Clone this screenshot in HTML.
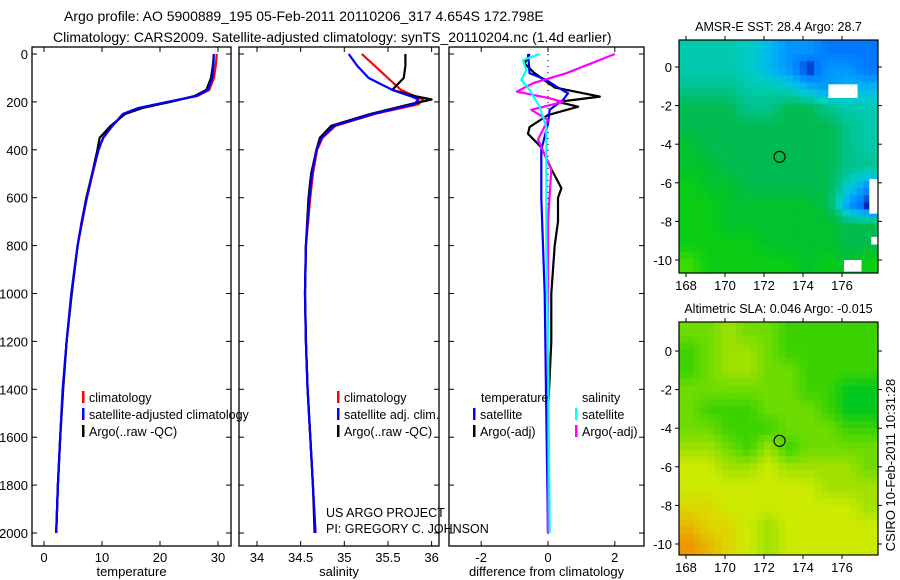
<!DOCTYPE html>
<html><head><meta charset="utf-8">
<style>
body{margin:0;background:#fff;}
svg{display:block;font-family:"Liberation Sans",sans-serif;}
</style></head>
<body>
<svg id="chart" width="900" height="580" viewBox="0 0 900 580" xmlns="http://www.w3.org/2000/svg">
<rect width="900" height="580" fill="#fff"/>
<text x="64" y="21" font-size="14">Argo profile: AO 5900889_195 05-Feb-2011 20110206_317 4.654S 172.798E</text>
<text x="53" y="42" font-size="14">Climatology: CARS2009. Satellite-adjusted climatology: synTS_20110204.nc (1.4d earlier)</text>
<g id="g"></g>
</svg>
<script>
// ---- profile data ----
const tDepth=[0,50,100,150,175,200,225,250,300,350,400,500,600,700,800,1000,1200,1400,1600,1800,2000];
const tempClim=[29.8,29.6,29.3,28.5,26.5,21.5,16.5,13.8,11.8,10.2,9.4,8.4,7.4,6.6,5.8,4.7,3.9,3.3,2.8,2.4,2.1];
const tempSat=[29.3,29.2,29.0,28.3,26.3,21.2,16.3,13.6,11.8,10.2,9.4,8.3,7.4,6.5,5.8,4.7,3.9,3.2,2.8,2.4,2.1];
const tempArgo=[29.3,29.1,28.8,28.0,26.0,21.8,17.0,14.0,11.5,9.6,9.2,8.3,7.3,6.5,5.8,4.8,3.9,3.3,2.8,2.4,2.1];
const sDepth=[0,50,100,150,175,190,210,250,300,350,400,500,600,800,1000,1200,1400,1600,1800,2000];
const salClim=[35.2,35.35,35.5,35.65,35.8,35.9,35.85,35.35,34.9,34.75,34.69,34.64,34.61,34.56,34.55,34.56,34.58,34.61,34.64,34.67];
const salSat=[35.05,35.15,35.28,35.55,35.75,35.85,35.8,35.33,34.88,34.74,34.68,34.63,34.6,34.56,34.55,34.56,34.58,34.61,34.64,34.67];
const salArgo=[35.7,35.7,35.68,35.55,35.8,36.0,35.75,35.3,34.85,34.72,34.68,34.62,34.59,34.56,34.55,34.56,34.58,34.61,34.64,34.66];
const dTempArgoDepth=[0,40,80,140,178,200,220,255,305,333,390,480,560,600,700,800,1000,1200,1500,2000];
const dTempArgo=[-0.55,-0.7,-0.4,0.2,1.55,0.3,0.9,0.0,-0.55,-0.6,-0.2,0.1,0.4,0.3,0.3,0.2,0.1,0.1,0.0,0.0];
const dTempSatDepth=[0,80,108,136,164,192,233,290,400,600,800,1000,1500,2000];
const dTempSat=[-0.6,-0.55,-0.05,0.25,0.6,0.45,0.05,0.0,-0.2,-0.2,-0.15,-0.1,-0.05,0.0];
const dSalArgoDepth=[0,80,122,157,185,200,233,275,357,483,700,1000,1500,2000];
const dSalArgo=[2.0,0.55,-0.45,-0.93,0.05,0.45,-0.5,0.0,-0.3,0.1,0.0,0.0,0.0,0.0];
const dSalSatDepth=[0,25,67,108,150,220,305,483,800,1200,2000];
const dSalSat=[-0.25,-0.75,-0.65,-0.8,-0.55,-0.25,-0.05,-0.05,-0.05,0.0,0.05];
const depthTicks=[0,200,400,600,800,1000,1200,1400,1600,1800,2000];
const tempTicks=[0,10,20,30];
const salTicks=[34,34.5,35,35.5,36];
const diffTicks=[-2,0,2];
// ---- map data ----
const sstGrid=[
[2.8,2.8,2.8,3,3.5,4,4,4.5,4.5,4.5],
[2.8,2.8,2.8,3,3.5,4,5,4,4,4.5],
[2.5,2.5,2.5,2.8,2.8,3,3.5,4,3.5,3.5],
[2,2,2,2.5,2.5,2,2,2.5,2.8,2.8],
[2,2,2,2,2,2,2,2,2.5,2.8],
[1.5,2,2,2,2,2,2,2,2.5,2.8],
[1.5,1.5,2,2,2,2,2,2,2.5,2.5],
[1,1.5,1.5,2,2,2,2,2,3,4],
[1,1,1.5,1.5,1.5,1.5,1.5,2,4,5],
[1,1,1.5,1.5,1.5,1.5,1.5,1.5,2,2],
[1,1,1,1,1.5,1.5,1.5,1.5,2,2],
[0.5,1,1,1,1,1,1.5,1,1.5,1]];
const sstWhite=[[175.3,-0.9,176.8,-1.6],[177.4,-5.8,177.9,-7.6],[176.1,-10.0,177.0,-10.6],[177.5,-8.8,177.9,-9.2]];
const slaGrid=[
[4,4,3,4,4,5,5,5,5,5],
[5,4,3,3,4,5,5,5,5,5],
[5,4,3,3,4,4,5,5,5,5],
[4,4,4,4,4,4,5,5,6,6],
[4,5,5,5,4,4,4,5,6,6],
[4,4,5,5,5,4,4,4,5,5],
[3,3,4,5,3,5,4,4,4,4],
[2,2,3,3,2,3,3,3,3,4],
[2,2,2,2,2,2,2,3,3,3],
[1,1,2,2,2,2,2,2,2,3],
[0.5,1,1,2,3,2,2,2,2,2],
[0,0.5,1,2,3,2,2,2,2,2]];
const latTicks=[0,-2,-4,-6,-8,-10];
const lonTicks=[168,170,172,174,176];

const NS="http://www.w3.org/2000/svg";
const G=document.getElementById('g');
function mk(tag,attrs,parent){const e=document.createElementNS(NS,tag);for(const k in attrs)e.setAttribute(k,attrs[k]);(parent||G).appendChild(e);return e;}
function txt(x,y,s,size,anchor,name,parent){const t=mk('text',{x:x,y:y,'font-size':size,'text-anchor':anchor||'start'},parent);t.textContent=s;


return t;}

const axTop=47,axBot=546;
const yD=d=>54+d*0.2395;
const panels=[
 {x0:32,x1:231,sx:v=>44+v*5.8,ticks:tempTicks,label:'temperature',name:'temperature-panel'},
 {x0:239,x1:439,sx:v=>257+(v-34)*87.3,ticks:salTicks,label:'salinity',name:'salinity-panel'},
 {x0:449,x1:644,sx:v=>548+v*33.4,ticks:diffTicks,label:'difference from climatology',name:'difference-panel'}];

function line(depths,vals,sx,color,name,parent){
  const pts=depths.map((d,i)=>sx(vals[i]).toFixed(1)+','+yD(d).toFixed(1)).join(' ');
  const p=mk('polyline',{points:pts,fill:'none',stroke:color,'stroke-width':2.2,'stroke-linejoin':'round'},parent);
  
  
}

panels.forEach((P,pi)=>{
  const g=mk('g',{});
  
  
  mk('rect',{x:P.x0,y:axTop,width:P.x1-P.x0,height:axBot-axTop,fill:'none',stroke:'#000','stroke-width':1.3},g);
  depthTicks.forEach(d=>{
    mk('line',{x1:P.x0,x2:P.x0+5,y1:yD(d),y2:yD(d),stroke:'#000'},g);
    mk('line',{x1:P.x1-5,x2:P.x1,y1:yD(d),y2:yD(d),stroke:'#000'},g);
    if(pi==0) txt(28,yD(d)+5,String(d),13,'end','depth-tick-label',g);
  });
  P.ticks.forEach(v=>{
    const x=P.sx(v);
    mk('line',{x1:x,x2:x,y1:axBot,y2:axBot-5,stroke:'#000'},g);
    mk('line',{x1:x,x2:x,y1:axTop,y2:axTop+5,stroke:'#000'},g);
    txt(x,562,String(v),13,'middle','x-tick-label',g);
  });
  txt((P.x0+P.x1)/2,576,P.label,13,'middle','x-axis-title',g);
  if(pi==0){
    line(tDepth,tempClim,P.sx,'#f00','climatology-line',g);
    line(tDepth,tempArgo,P.sx,'#000','argo-line',g);
    line(tDepth,tempSat,P.sx,'#00f','satellite-line',g);
  } else if(pi==1){
    line(sDepth,salClim,P.sx,'#f00','climatology-line',g);
    line(sDepth,salArgo,P.sx,'#000','argo-line',g);
    line(sDepth,salSat,P.sx,'#00f','satellite-line',g);
  } else {
    for(let d=0;d<=2000;d+=25){mk('rect',{x:547.5,y:yD(d),width:1,height:1.2,fill:'#000'},g);}
    line(dTempArgoDepth,dTempArgo,P.sx,'#000','temp-argo-diff-line',g);
    line(dTempSatDepth,dTempSat,P.sx,'#00f','temp-satellite-diff-line',g);
    line(dSalArgoDepth,dSalArgo,P.sx,'#f0f','sal-argo-diff-line',g);
    line(dSalSatDepth,dSalSat,P.sx,'#0ff','sal-satellite-diff-line',g);
  }
});
function legItem(x,y,color,label,name){
  mk('rect',{x:x,y:y-11,width:2.5,height:12,fill:color});
  txt(x+7,y,label,12.5,'start',name);
}
legItem(82,402,'#f00','climatology','legend-climatology');
legItem(82,419,'#00f','satellite-adjusted climatology','legend-satellite');
legItem(82,436,'#000','Argo(..raw -QC)','legend-argo');
legItem(337,402,'#f00','climatology','legend-climatology');
legItem(337,419,'#00f','satellite adj. clim.','legend-satellite');
legItem(337,436,'#000','Argo(..raw -QC)','legend-argo');
txt(481,402,'temperature',12.5,'start','legend-temperature-heading');
txt(582,402,'salinity',12.5,'start','legend-salinity-heading');
legItem(473,419,'#00f','satellite','legend-temp-satellite');
legItem(473,436,'#000','Argo(-adj)','legend-temp-argo');
legItem(575,419,'#0ff','satellite','legend-sal-satellite');
legItem(575,436,'#f0f','Argo(-adj)','legend-sal-argo');
txt(326,517,'US ARGO PROJECT',12.5,'start','credit-project');
txt(326,533,'PI: GREGORY C. JOHNSON',12.5,'start','credit-pi');

function interp(stops,v){
  if(v<=stops[0][0])return 'rgb('+stops[0][1].join(',')+')';
  for(let i=1;i<stops.length;i++){if(v<=stops[i][0]){const a=stops[i-1],b=stops[i],t=(v-a[0])/(b[0]-a[0]);
    return 'rgb('+[0,1,2].map(k=>Math.round(a[1][k]+(b[1][k]-a[1][k])*t)).join(',')+')';}}
  return 'rgb('+stops[stops.length-1][1].join(',')+')';
}
function sample(grid,fr,fc){
  const R=grid.length,C=grid[0].length;
  let r=Math.min(Math.max(fr,0),R-1),c=Math.min(Math.max(fc,0),C-1);
  const r0=Math.floor(r),c0=Math.floor(c),r1=Math.min(r0+1,R-1),c1=Math.min(c0+1,C-1);
  const tr=r-r0,tc=c-c0;
  return grid[r0][c0]*(1-tr)*(1-tc)+grid[r0][c1]*(1-tr)*tc+grid[r1][c0]*tr*(1-tc)+grid[r1][c1]*tr*tc;
}
const sstStops=[[0.5,[60,220,0]],[1,[10,205,20]],[1.5,[0,195,45]],[2,[0,188,80]],[2.5,[0,195,140]],[3,[0,205,195]],[3.5,[0,185,240]],[4,[0,150,255]],[4.5,[0,120,255]],[5,[0,0,140]]];
const slaStops=[[0,[238,150,0]],[1,[220,215,0]],[2,[205,235,0]],[3,[160,225,0]],[4,[110,220,0]],[5,[60,210,0]],[6,[0,200,30]]];
function map(y0,grid,stops,title,name,whites){
  const x0=679,x1=878,y1=y0+233;
  const g=mk('g',{});
  
  
  const NC=28,NR=33,cw=(x1-x0)/NC,ch=(y1-y0)/NR;
  const R=grid.length,C=grid[0].length;
  for(let r=0;r<NR;r++)for(let c=0;c<NC;c++){
    const v=sample(grid,(r+0.5)/NR*R-0.5,(c+0.5)/NC*C-0.5);
    const cell=mk('rect',{x:(x0+c*cw).toFixed(2),y:(y0+r*ch).toFixed(2),width:(cw+0.4).toFixed(2),height:(ch+0.4).toFixed(2),fill:interp(stops,v)},g);
    
    
  }
  const lat0=y0+(name=='sst-map'?27:29), dy=19.3;
  const lx=l=>686+(l-168)*19.5, ly=l=>lat0-l*dy;
  (whites||[]).forEach(w=>{
    const wr=mk('rect',{x:lx(w[0]),y:ly(w[1]),width:lx(w[2])-lx(w[0]),height:ly(w[3])-ly(w[1]),fill:'#fff'},g);
    
    
  });
  mk('rect',{x:x0,y:y0,width:x1-x0,height:y1-y0,fill:'none',stroke:'#000','stroke-width':1.2},g);
  latTicks.forEach(l=>{const y=ly(l);
    mk('line',{x1:x0-4,x2:x0,y1:y,y2:y,stroke:'#000'},g);
    mk('line',{x1:x1,x2:x1+4,y1:y,y2:y,stroke:'#000'},g);
    txt(x0-7,y+5,String(l),13,'end','lat-tick-label',g);});
  lonTicks.forEach(l=>{const x=lx(l);
    mk('line',{x1:x,x2:x,y1:y0-4,y2:y0,stroke:'#000'},g);
    mk('line',{x1:x,x2:x,y1:y1,y2:y1+4,stroke:'#000'},g);
    txt(x,y1+17,String(l),13,'middle','lon-tick-label',g);});
  const m=mk('circle',{cx:lx(172.798),cy:ly(-4.654),r:5.5,fill:'none',stroke:'#000','stroke-width':1.1},g);
  
  
  txt((x0+x1)/2,y0-9,title,12.5,'middle','map-title',g);
}
map(40,sstGrid,sstStops,'AMSR-E SST: 28.4 Argo: 28.7','sst-map',sstWhite);
map(322,slaGrid,slaStops,'Altimetric SLA: 0.046 Argo: -0.015','sla-map',[]);
const cr=txt(0,0,'CSIRO 10-Feb-2011 10:31:28',13,'middle','timestamp-label');
cr.setAttribute('transform','translate(895,465) rotate(-90)');
</script>
</body></html>
